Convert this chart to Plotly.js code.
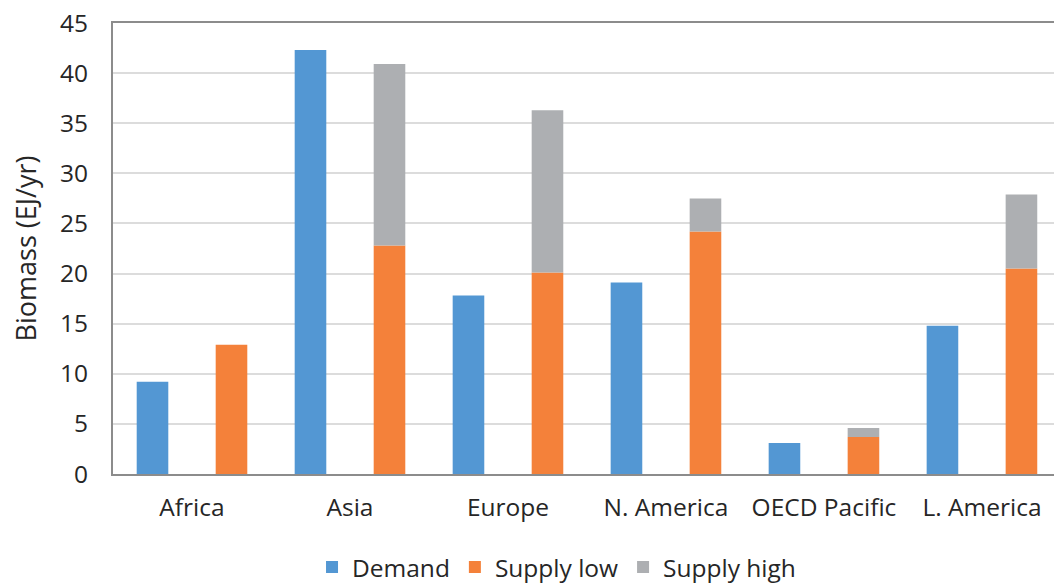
<!DOCTYPE html>
<html>
<head>
<meta charset="utf-8">
<script src="https://cdn.plot.ly/plotly-3.0.1.min.js"></script>
<style>html,body{margin:0;padding:0;background:#fff;}#chart{width:1054px;height:583px;}</style>
</head>
<body>
<div id="chart"></div>
<script>
const regions = ["Africa", "Asia", "Europe", "N. America", "OECD Pacific", "L. America"];
const demand = [9.2, 42.3, 17.8, 19.1, 3.1, 14.8];
const supplyLow = [12.9, 22.8, 20.1, 24.2, 3.7, 20.5];
const supplyHighTotal = [null, 40.9, 36.3, 27.5, 4.6, 27.9];
const supplyHighExtra = supplyHighTotal.map((v, i) => v === null ? null : +(v - supplyLow[i]).toFixed(2));

const FONT = "Open Sans, sans-serif";
const TXT = "#262626";
const FS = 24.5;

const traces = [
  {type: "bar", name: "Demand", x: regions, y: demand, offsetgroup: "d",
   marker: {color: "#5397D3"}},
  {type: "bar", name: "Supply low", x: regions, y: supplyLow, offsetgroup: "s",
   marker: {color: "#F4813A"}},
  {type: "bar", name: "Supply high", x: regions, y: supplyHighExtra, base: supplyLow, offsetgroup: "s",
   marker: {color: "#ADAFB2"}}
];

const layout = {
  width: 1054, height: 583,
  margin: {l: 113, r: 0, t: 23, b: 108.5, pad: 0, autoexpand: false},
  paper_bgcolor: "#fff", plot_bgcolor: "#fff",
  barmode: "group", bargap: 0, bargroupgap: 0.6,
  font: {family: FONT, size: FS, color: TXT},
  showlegend: true,
  legend: {orientation: "h", x: 0.2115, xanchor: "left", yref: "container", y: 0.0274, yanchor: "middle",
           font: {family: FONT, size: FS, color: TXT}, itemwidth: 30, traceorder: "normal"},
  xaxis: {
    type: "category", range: [-0.5, 5.456], autorange: false,
    showline: true, linecolor: "#8c8c8c", linewidth: 2, mirror: true,
    showgrid: false, ticks: "", ticklabelstandoff: 11,
    tickfont: {family: FONT, size: FS, color: TXT}, fixedrange: true
  },
  yaxis: {
    range: [0, 45], autorange: false, dtick: 5, tick0: 0,
    showline: true, linecolor: "#8c8c8c", linewidth: 2,
    showgrid: true, gridcolor: "#dcdcdc", gridwidth: 2,
    zeroline: false, ticks: "", ticklabelstandoff: 18,
    tickfont: {family: FONT, size: FS, color: TXT},
    title: {text: "Biomass (EJ/yr)\u00a0\u00a0\u00a0\u00a0\u00a0\u00a0", font: {family: FONT, size: 27, color: TXT}, standoff: 16},
    fixedrange: true
  }
};

Plotly.newPlot("chart", traces, layout, {displayModeBar: false, staticPlot: true});
</script>
</body>
</html>
